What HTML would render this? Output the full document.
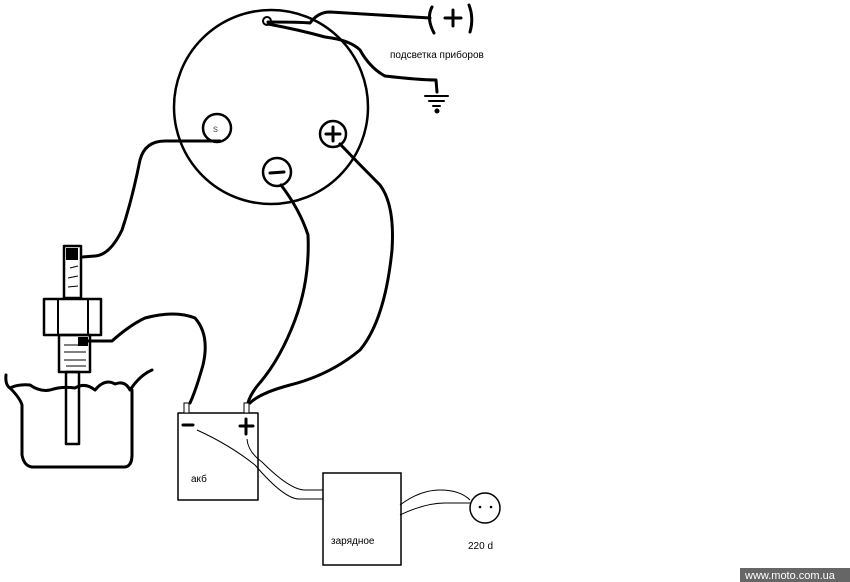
<!DOCTYPE html>
<html><head><meta charset="utf-8"><style>
html,body{margin:0;padding:0;background:#fff;width:850px;height:582px;overflow:hidden}
svg{display:block}
text{font-family:"Liberation Sans",sans-serif}
</style></head><body>
<svg width="850" height="582" viewBox="0 0 850 582" xmlns="http://www.w3.org/2000/svg">
<g fill="none" stroke="#000" stroke-width="3" stroke-linecap="round" stroke-linejoin="round">
<circle cx="271" cy="107" r="97" stroke-width="2.5"/>
<!-- lighting wires -->
<path d="M268,22 Q300,22 310,23 Q318,12 330,12 L430,18"/>
<path d="M268,24 Q300,30 325,37 Q350,40 360,50 Q370,68 385,76 Q420,80 436,80 L437,92"/>
<path d="M432,7 Q426,18 434,33" />
<path d="M469,5 Q474,18 470,32" />
<path d="M453,10 L453,26 M445,18 L461,18"/>
<path d="M425,96 L448,96 M429,101 L444,101 M433,106 L440,106" stroke-width="2"/>
<circle cx="437" cy="111" r="1" fill="#000"/>
<!-- terminals -->
<circle cx="217" cy="128" r="14" stroke-width="2.5"/>
<circle cx="333" cy="134" r="13" stroke-width="2.5"/>
<circle cx="277" cy="172" r="14" stroke-width="2.5"/>
<path d="M326,134 L340,134 M333,127 L333,141" />
<path d="M270,173 L284,172" />
<!-- S wire -->
<path d="M220,141 L165,141 Q145,141 140,160 Q132,200 122,230 Q110,255 95,256 L82,257"/>
<!-- minus wire -->
<path d="M281,185 Q300,210 308,235 Q310,280 295,320 Q280,360 258,385 Q250,395 248,403"/>
<!-- plus wire -->
<path d="M340,144 Q360,165 380,185 Q395,205 392,250 Q385,320 360,350 Q330,375 290,385 Q260,393 250,403"/>
<!-- sensor wire -->
<path d="M86,341 L112,341 Q130,325 145,318 Q175,310 195,318 Q210,335 203,365 Q196,390 190,403"/>
<!-- sensor -->
<rect x="64" y="246" width="17" height="52" stroke-width="2.5"/>
<rect x="44" y="299" width="57" height="36" stroke-width="2.5"/>
<path d="M58,299 L58,335 M88,299 L88,335" stroke-width="2"/>
<rect x="59" y="335" width="31" height="37" stroke-width="2.5"/>
<rect x="66" y="372" width="13" height="72" stroke-width="2.5"/>
<!-- bowl -->
<path d="M6,375 Q5,385 10,388 Q18,384 30,385 Q40,392 50,390 Q62,386 75,388 Q85,382 95,390 Q105,378 115,384 Q125,380 130,390 Q140,375 152,370"/>
<path d="M10,388 Q20,398 22,405 L22,455 Q24,466 32,467 L125,467 Q132,466 132,455 L132,390"/>
<!-- battery -->
<rect x="178" y="413" width="80" height="87" stroke-width="1.5"/>
<path d="M183,425 L193,425 M240,426 L253,426 M246,419 L246,434"/>
</g>
<g fill="#000">
<rect x="66" y="248" width="12" height="12"/>
<rect x="78" y="337" width="10" height="9"/>
</g>
<g stroke="#000" stroke-width="1" fill="none">
<path d="M70,268 L78,266 M68,278 L78,276 M68,287 L78,286"/>
<path d="M64,345 L84,345 M64,352 L86,352 M64,360 L86,360 M66,366 L86,366"/>
<circle cx="267" cy="21" r="4" stroke-width="2"/>
<rect x="184" y="403" width="5" height="10" fill="#fff"/>
<rect x="244" y="403" width="5" height="10" fill="#fff"/>
<rect x="323" y="473" width="78" height="92" stroke-width="1.5"/>
<circle cx="485" cy="508" r="15" stroke-width="1.5"/>
<path d="M247,439 Q248,452 262,462 Q290,490 305,490 L323,490"/>
<path d="M197,430 Q230,445 255,465 Q285,500 300,499 L323,499"/>
<path d="M400,505 Q420,490 440,490 Q460,490 470,500"/>
<path d="M400,515 Q425,503 445,503 L470,503"/>
</g>
<circle cx="480" cy="507" r="1.3" fill="#000"/>
<circle cx="491" cy="507" r="1.3" fill="#000"/>
<text x="213" y="132" font-size="10" fill="#555">s</text>
<text x="390" y="58" font-size="10">подсветка приборов</text>
<text x="191" y="482" font-size="10">акб</text>
<text x="331" y="544" font-size="10">зарядное</text>
<text x="468" y="549" font-size="10">220 d</text>
<rect x="740" y="568" width="110" height="14" fill="#666"/>
<text x="745" y="579" font-size="11" fill="#fff">www.moto.com.ua</text>
</svg>
</body></html>
